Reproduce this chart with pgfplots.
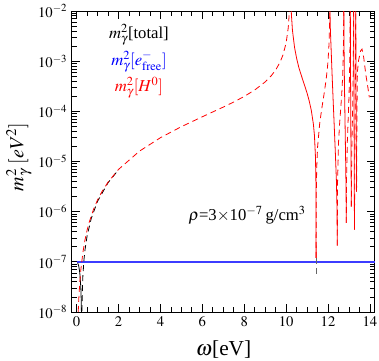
\documentclass[border=0pt]{standalone}
\usepackage{mathptmx}
\usepackage{fontspec}
\setmainfont{Liberation Serif}
\usepackage{pgfplots}
\pgfplotsset{compat=1.18}

\definecolor{freeblue}{RGB}{0,0,255}
\definecolor{lineblue}{RGB}{60,60,255}
\definecolor{hred}{RGB}{255,0,0}

\pgfplotsset{
  pos/.style={draw=hred, line width=0.6pt},
  neg/.style={draw=hred, line width=0.6pt, dash pattern=on 4.5pt off 3pt},
}

\begin{document}
\begin{tikzpicture}
\begin{axis}[
  scale only axis,
  width=227.25pt, height=225.75pt,
  ymode=log,
  xmin=-0.22, xmax=14.24,
  ymin=1e-8, ymax=1e-2,
  xtick={0,2,...,14},
  minor x tick num=3,
  axis line style={line width=0.75pt},
  major tick length=6pt,
  minor tick length=3.5pt,
  tick style={black, line width=0.6pt},
  tick label style={font=\fontsize{11}{12}\selectfont},
  xlabel={$\omega$[eV]},
  ylabel={$m_\gamma^2\;[eV^2]$},
  xlabel style={font=\fontsize{16}{18}\selectfont, at={(axis description cs:0.5,-0.126)}, anchor=center},
  ylabel style={font=\fontsize{15}{17}\selectfont, at={(axis description cs:-0.175,0.515)}, anchor=center, rotate=0},
]
% free electrons
\addplot[color=lineblue, line width=1.0pt] table {
x y
0 1e-7
14.24 1e-7
};
% total, low energy part
\addplot[black, line width=0.6pt] coordinates {
  (0.05,9.57e-8)(0.1,8.3e-8)(0.15,6.16e-8)(0.2,3.18e-8)(0.22,1.75e-8)(0.23,9.8e-9)(0.235,5.8e-9)
};
\addplot[black, line width=0.6pt, dash pattern=on 4.5pt off 3pt] coordinates {
  (0.25,6.6e-9)(0.26,1.5e-8)(0.28,3.37e-8)(0.3,5.35e-8)(0.35,1.09e-7)(0.4,1.73e-7)(0.5,3.27e-7)
  (0.7,7.37e-7)(1.0,1.613e-6)(1.5,3.78e-6)(2.0,6.86e-6)
};
\addplot[black!60, line width=0.6pt, dash pattern=on 4.5pt off 3pt] coordinates {
  (11.4306,1.2e-7)(11.4306,5e-8)
};
% H0 contribution
\addplot[neg] coordinates {
  (0.077,1.01e-8)(0.1,1.705e-8)(0.15,3.84e-8)(0.2,6.82e-8)(0.3,1.535e-7)(0.4,2.73e-7)(0.5,4.27e-7)
  (0.6,6.15e-7)(0.8,1.094e-6)(1.0,1.713e-6)(1.2,2.473e-6)(1.5,3.879e-6)(2.0,6.96e-6)(3.0,1.609e-5)
  (4.0,2.981e-5)(5.0,4.951e-5)(6.0,7.798e-5)(7.0,1.216e-4)(7.5,1.536e-4)(8.0,1.983e-4)(8.5,2.663e-4)
  (9.0,3.864e-4)(9.3,5.19e-4)(9.5,6.688e-4)(9.7,9.361e-4)(9.85,1.334e-3)(10.0,2.328e-3)(10.1,4.64e-3)
  (10.15,9.27e-3)(10.16,1.158e-2)
};
\addplot[pos] coordinates {
  (10.23,1.468e-2)(10.25,8.66e-3)(10.3,4.15e-3)(10.4,1.89e-3)(10.5,1.138e-3)(10.6,7.62e-4)(10.7,5.57e-4)
  (10.8,4.16e-4)(10.9,3.11e-4)(11.0,2.29e-4)(11.1,1.615e-4)(11.2,1.047e-4)(11.3,5.55e-5)(11.35,3.32e-5)
  (11.4,1.21e-5)(11.42,4.0e-6)(11.428,7.95e-7)(11.4297,1.2e-7)
};
\addplot[neg] coordinates {
  (11.4303,1.2e-7)(11.432,4.98e-7)(11.44,2.52e-6)(11.46,7.81e-6)(11.5,1.946e-5)(11.6,5.69e-5)(11.7,1.135e-4)
  (11.8,2.092e-4)(11.9,4.06e-4)(11.96,6.69e-4)(12.0,1.039e-3)(12.04,2.0e-3)(12.06,3.44e-3)(12.075,7.05e-3)
  (12.082,1.337e-2)
};
\addplot[pos] coordinates {
  (12.093,1.2e-2)(12.1,5.6e-3)(12.15,1.58e-3)(12.2,4.5e-4)(12.25,1.41e-4)(12.3,4.5e-5)(12.35,1.41e-5)
  (12.4,4e-6)(12.43,1e-6)(12.44,2.1e-7)
};
\addplot[neg] coordinates {
  (12.441,2.1e-7)(12.45,3.3e-6)(12.5,2.4e-5)(12.55,5.5e-5)(12.6,1.07e-4)(12.65,2.1e-4)(12.7,5.2e-4)
  (12.73,1.45e-3)(12.745,6.1e-3)(12.748,1.54e-2)
};
\addplot[pos] coordinates {
  (12.752,1.2e-2)(12.76,2.5e-3)(12.78,4e-4)(12.81,6.3e-5)(12.84,1e-5)(12.86,2.5e-6)(12.87,6e-7)
};
\addplot[neg] coordinates {
  (12.871,6e-7)(12.88,4e-6)(12.92,2.5e-5)(12.96,7e-5)(13.0,2e-4)(13.03,7e-4)(13.05,3e-3)(13.058,1.2e-2)
};
\addplot[pos] coordinates {
  (13.062,1.2e-2)(13.07,1e-3)(13.09,3e-5)(13.11,1.26e-6)
};
\addplot[neg] coordinates {
  (13.111,1.26e-6)(13.13,1.5e-5)(13.17,1e-4)(13.2,6e-4)(13.215,4e-3)(13.219,1.2e-2)
};
\addplot[pos] coordinates {
  (13.222,1.2e-2)(13.23,1e-3)(13.245,3e-5)(13.26,4.4e-7)
};
\addplot[neg] coordinates {
  (13.261,4.4e-7)(13.28,2e-5)(13.3,2e-4)(13.315,3e-3)(13.319,1.2e-2)
};
\addplot[pos] coordinates {
  (13.322,1.2e-2)(13.33,8e-4)(13.35,2e-5)(13.36,2.5e-6)
};
\addplot[neg] coordinates {
  (13.361,2.5e-6)(13.38,1e-4)(13.4,6e-4)(13.45,1e-3)(13.55,1.6e-3)(13.62,1.74e-3)(13.7,1.2e-3)
  (13.8,5.5e-4)(13.9,3e-4)(13.97,1.9e-4)
};

\node[font=\fontsize{12.5}{14}\selectfont, text=black] at (axis description cs:0.221,0.920) {$m_\gamma^2$[total]};
\node[font=\fontsize{12.5}{14}\selectfont, text=freeblue] at (axis description cs:0.221,0.831) {$m_\gamma^2[e^-_{\rm free}]$};
\node[font=\fontsize{12.5}{14}\selectfont, text=hred] at (axis description cs:0.221,0.744) {$m_\gamma^2[H^0]$};
\node[font=\fontsize{12.5}{14}\selectfont] at (axis description cs:0.578,0.322) {$\rho$=3$\times$10$^{-7}$\,g/cm$^3$};
\end{axis}
\pgfresetboundingbox
\path ([shift={(-54pt,-36.75pt)}]current axis.south west) rectangle ([shift={(3pt,8.25pt)}]current axis.north east);
\end{tikzpicture}
\end{document}
